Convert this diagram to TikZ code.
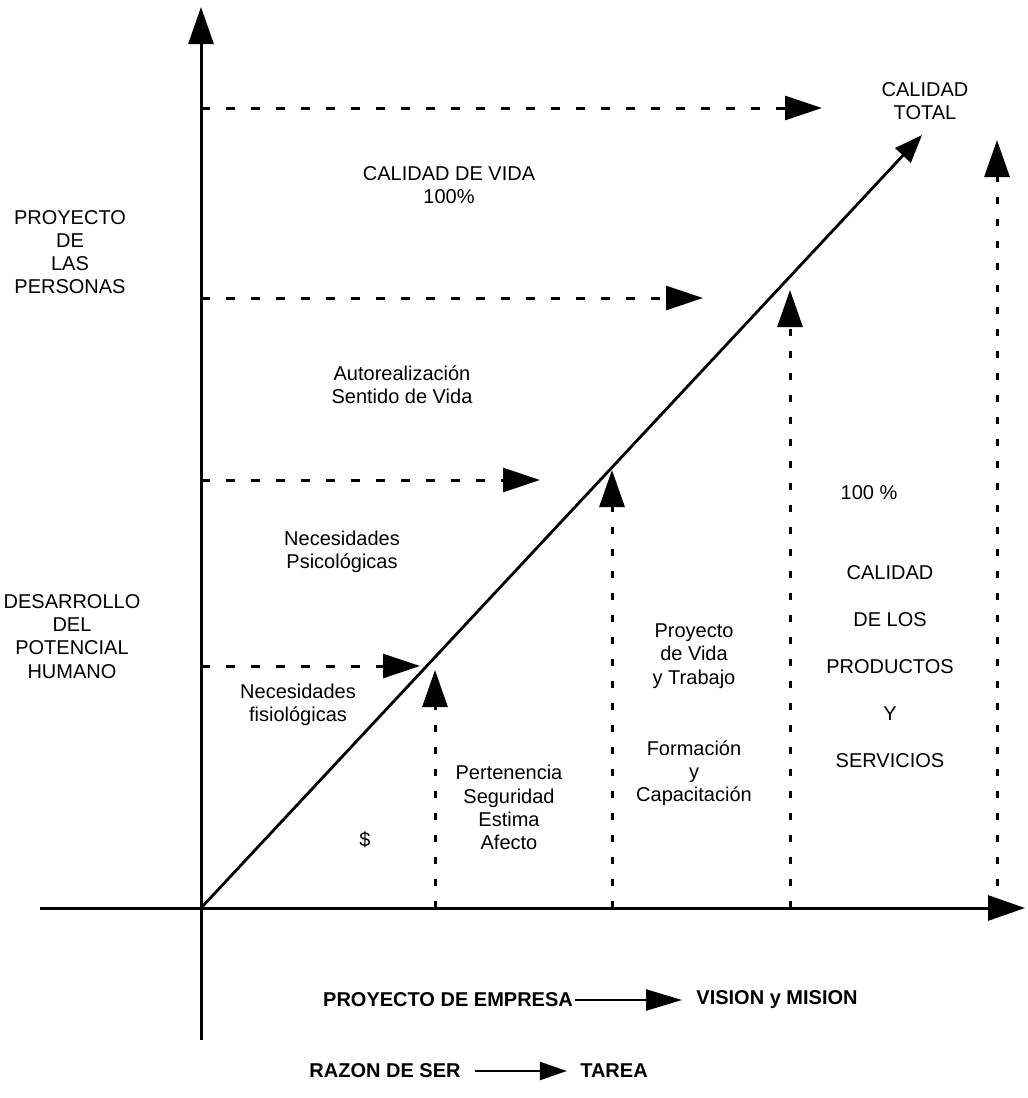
\documentclass[tikz,border=0pt]{standalone}
\usepackage{fontspec}
\setmainfont{Liberation Sans}
\usetikzlibrary{arrows.meta}
\begin{document}
\begin{tikzpicture}[x=0.5pt,y=-0.5pt,
  axis/.style={line width=1.5pt,-{Triangle[length=18.5pt,width=12.5pt]}},
  diag/.style={line width=1.4pt,-{Triangle[length=14pt,width=10.5pt]}},
  harrow/.style={line width=1.5pt,dash pattern=on 4.5pt off 8pt,-{Triangle[length=18.5pt,width=12pt]}},
  varrow/.style={line width=1.5pt,dash pattern=on 3.5pt off 7.5pt,-{Triangle[length=18.5pt,width=12.5pt]}},
  lbl/.style={align=center,font=\fontsize{10}{11.6}\selectfont,inner sep=0pt},
  widelbl/.style={align=center,font=\fontsize{10}{23.5}\selectfont,inner sep=0pt},
  blbl/.style={font=\fontsize{10}{12}\selectfont\bfseries,inner sep=0pt},
  link/.style={line width=1.2pt,-{Triangle[length=18pt,width=10.5pt]}},
  shortlink/.style={line width=1.2pt,-{Triangle[length=13.5pt,width=9pt]}}
]
\useasboundingbox (0,0) rectangle (1028,1098);

% axes
\coordinate (O) at (201,908);
\coordinate (ybot) at (201,1040);
\coordinate (ytop) at (201,7);
\coordinate (xleft) at (40,908);
\coordinate (xright) at (1025,908);
\draw[axis] (ybot) -- (ytop);
\draw[axis] (xleft) -- (xright);

% growth line
\coordinate (peak) at (922,135);
\draw[diag] (O) -- (peak);

% horizontal levels (from the vertical axis)
\coordinate (h1s) at (201,108);  \coordinate (h1e) at (822,108);
\coordinate (h2s) at (201,298);  \coordinate (h2e) at (703,298);
\coordinate (h3s) at (201,480);  \coordinate (h3e) at (540,480);
\coordinate (h4s) at (201,666);  \coordinate (h4e) at (420,666);
\draw[harrow] (h1s) -- (h1e);
\draw[harrow] (h2s) -- (h2e);
\draw[harrow] (h3s) -- (h3e);
\draw[harrow] (h4s) -- (h4e);

% vertical levels (from the horizontal axis)
\coordinate (v1s) at (435,908);  \coordinate (v1e) at (435,670);
\coordinate (v2s) at (612,908);  \coordinate (v2e) at (612,470);
\coordinate (v3s) at (790,908);  \coordinate (v3e) at (790,290);
\coordinate (v4s) at (997,908);  \coordinate (v4e) at (997,140);
\draw[varrow] (v1s) -- (v1e);
\draw[varrow] (v2s) -- (v2e);
\draw[varrow] (v3s) -- (v3e);
\draw[varrow] (v4s) -- (v4e);

% labels
\node[lbl] (total) at (925,101.5) {CALIDAD\\TOTAL};
\node[lbl] (vida) at (449,185) {CALIDAD DE VIDA\\100\%};
\node[lbl] (personas) at (70,252) {PROYECTO\\DE\\LAS\\PERSONAS};
\node[lbl] (auto) at (402,385) {Autorealización\\Sentido de Vida};
\node[lbl] (psico) at (342,551.5) {Necesidades\\Psicológicas};
\node[lbl] (potencial) at (72,636.5) {DESARROLLO\\DEL\\POTENCIAL\\HUMANO};
\node[lbl] (fisio) at (298,704.5) {Necesidades\\fisiológicas};
\node[lbl] (proyvida) at (694,656) {Proyecto\\de Vida\\y Trabajo};
\node[lbl] (formacion) at (694,773) {Formación\\y\\Capacitación};
\node[lbl] (pertenencia) at (509,807.5) {Pertenencia\\Seguridad\\Estima\\Afecto};
\node[lbl] (dinero) at (365,840) {\$};
\node[lbl] (cien) at (869,493) {100 \%};
\node[widelbl] (productos) at (890,667) {CALIDAD\\DE LOS\\PRODUCTOS\\Y\\SERVICIOS};

% bottom captions
\node[blbl] (empresa) at (448,1000) {PROYECTO DE EMPRESA};
\node[blbl] (vision) at (777,1000) {VISION y MISION};
\draw[link] ([xshift=1pt]empresa.east) -- ([xshift=-7pt]vision.west);
\node[blbl] (razon) at (385,1071) {RAZON DE SER};
\node[blbl] (tarea) at (614,1071) {TAREA};
\draw[shortlink] ([xshift=7pt]razon.east) -- ([xshift=-6.5pt]tarea.west);
\end{tikzpicture}
\end{document}
